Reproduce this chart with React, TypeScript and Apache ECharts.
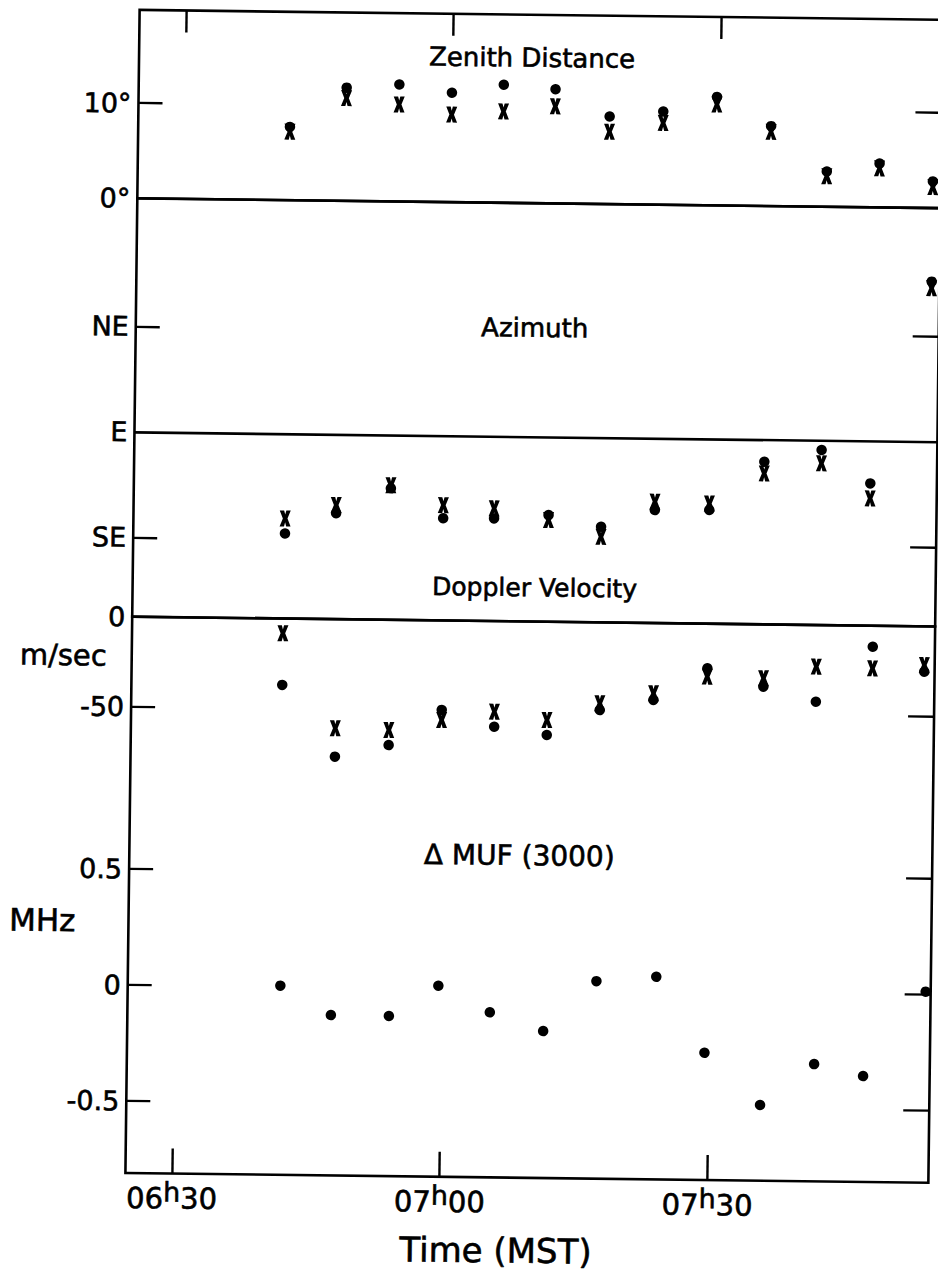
import React, { useEffect, useRef } from "react";
import * as echarts from "echarts";

// ---- data (time in minutes after 06:00 MST) ----
const zenithTime = [41.8, 48.1, 54.0, 59.9, 65.7, 71.5, 77.6, 83.6, 89.6, 95.7, 102.0, 107.9, 113.9];
const zenithDot = [7.7, 11.9, 12.3, 11.5, 12.4, 12.0, 9.2, 9.8, 11.4, 8.4, 3.7, 4.6, 2.8];
const zenithCross = [7.2, 10.8, 10.2, 9.2, 9.6, 10.2, 7.6, 8.6, 10.6, 7.8, 3.2, 4.1, 2.2];

const azimuthTime = [41.8, 47.5, 53.6, 59.5, 65.2, 71.3, 77.2, 83.2, 89.3, 95.4, 101.8, 107.3, 113.9];
const azimuthDot = [132.6, 123.7, 112.8, 125.3, 125.1, 123.4, 128.1, 120.7, 120.4, 99.5, 94.2, 108.2, 21.8];
const azimuthCross = [126.2, 120.2, 111.5, 119.7, 120.8, 125.5, 132.4, 117.1, 117.6, 104.5, 99.9, 114.6, 24.6];

const dopplerTime = [41.7, 47.7, 53.7, 59.6, 65.5, 71.4, 77.3, 83.3, 89.3, 95.6, 101.5, 107.8, 113.6];
const dopplerDot = [-36.9, -76.4, -69.6, -49.7, -58.7, -62.9, -48.7, -42.7, -24.8, -34.6, -42.6, -11.7, -25.2];
const dopplerCross = [-8.2, -60.6, -61.2, -55.3, -50.3, -54.6, -44.9, -39.0, -29.4, -29.9, -23.1, -23.7, -21.5];

const mufTime = [41.9, 47.6, 54.1, 59.6, 65.4, 71.4, 77.3, 84.0, 89.5, 95.8, 101.8, 107.3, 114.2];
const mufDelta = [0.005, -0.119, -0.12, 0.013, -0.099, -0.177, 0.041, 0.063, -0.262, -0.484, -0.305, -0.354, 0.013];

const timeTickValues = [30, 60, 90];
const timeTickLabels = ["06h30", "07h00", "07h30"];
const zenithTickValues = [0, 10];
const azimuthTickValues = [45, 90, 135];
const azimuthTickLabels = ["NE", "E", "SE"];
const dopplerTickValues = [0, -50];
const mufTickValues = [0.5, 0, -0.5];

// axis ranges
const X_MIN = 24.8;
const X_MAX = 114.76;
const ZEN_MIN = 0;
const ZEN_MAX = 19.8;
const AZ_MIN = -9.6;
const AZ_MAX = 168.9;
const DOP_MIN = -309.1;
const DOP_MAX = 0;
const MUF_MIN = -0.8103;
const MUF_MAX = 1.5875;

const INK = "#000";
const FONT = '"DejaVu Sans", "Noto Sans", sans-serif';
const CROSS = "path://M0,0 L4,0 L5,3.6 L6,0 L10,0 L7.1,7 L10,14 L6,14 L5,10.4 L4,14 L0,14 L2.9,7 Z";

const pairs = (t: number[], v: number[]) => t.map((x, i) => [x, v[i]]);

const GRID_LEFT = 132;
const GRID_WIDTH = 803;

function xAxisFor(gridIndex: number, extra: any = {}) {
  return {
    type: "value",
    gridIndex,
    min: X_MIN,
    max: X_MAX,
    splitLine: { show: false },
    axisLine: { show: false, onZero: false },
    axisTick: { show: false },
    axisLabel: { show: false },
    ...extra,
  };
}

function yAxisFor(gridIndex: number, min: number, max: number, side: string, ticks: number[], labels: any, extra: any = {}) {
  return {
    type: "value",
    gridIndex,
    min,
    max,
    position: side,
    splitLine: { show: false },
    axisLine: { show: false, onZero: false },
    axisTick: {
      show: ticks.length > 0,
      inside: true,
      length: side === "left" ? 24 : 26,
      customValues: ticks,
      lineStyle: { color: INK, width: 2.4 },
    },
    axisLabel: labels
      ? {
          show: true,
          customValues: labels.values,
          formatter: labels.formatter,
          color: INK,
          fontFamily: FONT,
          fontSize: 27,
          margin: 7,
          textBorderColor: INK,
          textBorderWidth: 0.6,
        }
      : { show: false },
    ...extra,
  };
}

function scatter(name: string, xi: number, yi: number, data: number[][], cross: boolean, extra: any = {}) {
  return {
    type: "scatter",
    name,
    xAxisIndex: xi,
    yAxisIndex: yi,
    data,
    symbol: cross ? CROSS : "circle",
    symbolSize: cross ? [11, 16] : 10.5,
    itemStyle: { color: INK, opacity: 1 },
    clip: false,
    silent: true,
    z: cross ? 3 : 4,
    ...extra,
  };
}

function textEl(text: string, x: number, y: number, size: number, align = "center") {
  return {
    type: "text",
    x,
    y,
    silent: true,
    style: {
      text,
      fill: INK,
      fontFamily: FONT,
      fontSize: size,
      align,
      verticalAlign: "middle",
      textAlign: align,
      textVerticalAlign: "middle",
      stroke: INK,
      lineWidth: 0.6,
    },
  };
}

export default function App() {
  const ref = useRef<HTMLDivElement>(null);

  useEffect(() => {
    if (!ref.current) return;
    const chart = echarts.init(ref.current, undefined, { renderer: "svg" });
    const border = { show: true, borderColor: INK, borderWidth: 2.6, backgroundColor: "transparent" };
    const tickStyle = { color: INK, width: 2.4 };
    const option: any = {
      animation: false,
      backgroundColor: "#fff",
      grid: [
        { left: GRID_LEFT, width: GRID_WIDTH, top: 14, height: 188.4, ...border },
        { left: GRID_LEFT, width: GRID_WIDTH, top: 202.4, height: 418.4, ...border },
        { left: GRID_LEFT, width: GRID_WIDTH, top: 620.8, height: 556.3, ...border },
        { left: GRID_LEFT, width: GRID_WIDTH, top: 620.8, height: 556.3, show: false },
      ],
      xAxis: [
        xAxisFor(0, {
          position: "top",
          axisTick: { show: true, inside: true, length: 22, customValues: timeTickValues, lineStyle: tickStyle },
        }),
        xAxisFor(1),
        xAxisFor(2, {
          position: "bottom",
          axisTick: { show: true, inside: true, length: 25, customValues: timeTickValues, lineStyle: tickStyle },
          axisLabel: {
            show: true,
            customValues: timeTickValues,
            margin: 5,
            formatter: (v: number) => {
              const lab = timeTickLabels[timeTickValues.indexOf(v)] || "";
              const [a, b] = lab.split("h");
              return `{d|${a}}{h|h}{d|${b}}`;
            },
            rich: {
              d: { fontFamily: FONT, fontSize: 29, lineHeight: 40, color: INK, textBorderColor: INK, textBorderWidth: 0.6 },
              h: { fontFamily: FONT, fontSize: 27, lineHeight: 24, verticalAlign: "top", color: INK, textBorderColor: INK, textBorderWidth: 0.6 },
            },
          },
        }),
        xAxisFor(3),
      ],
      yAxis: [
        yAxisFor(0, ZEN_MIN, ZEN_MAX, "left", [10], {
          values: zenithTickValues,
          formatter: (v: number) => `${v}°`,
        }),
        yAxisFor(0, ZEN_MIN, ZEN_MAX, "right", [10], null),
        yAxisFor(1, AZ_MIN, AZ_MAX, "left", [45, 135], {
          values: azimuthTickValues,
          formatter: (v: number) => azimuthTickLabels[azimuthTickValues.indexOf(v)] || "",
        }, { inverse: true }),
        yAxisFor(1, AZ_MIN, AZ_MAX, "right", [45, 135], null, { inverse: true }),
        yAxisFor(2, DOP_MIN, DOP_MAX, "left", [-50], {
          values: dopplerTickValues,
          formatter: (v: number) => `${v}`,
        }),
        yAxisFor(2, DOP_MIN, DOP_MAX, "right", [-50], null),
        yAxisFor(3, MUF_MIN, MUF_MAX, "left", mufTickValues, {
          values: mufTickValues,
          formatter: (v: number) => (v === 0 ? "0" : v.toFixed(1)),
        }),
        yAxisFor(3, MUF_MIN, MUF_MAX, "right", mufTickValues, null),
      ],
      series: [
        scatter("Zenith (x)", 0, 0, pairs(zenithTime, zenithCross), true),
        scatter("Zenith (o)", 0, 0, pairs(zenithTime, zenithDot), false),
        scatter("Azimuth (x)", 1, 2, pairs(azimuthTime, azimuthCross), true),
        scatter("Azimuth (o)", 1, 2, pairs(azimuthTime, azimuthDot), false, {
          markLine: {
            silent: true,
            symbol: ["none", "none"],
            label: { show: false },
            lineStyle: { color: INK, width: 2.6, type: "solid", opacity: 1 },
            data: [{ yAxis: 90 }],
          },
        }),
        scatter("Doppler (x)", 2, 4, pairs(dopplerTime, dopplerCross), true),
        scatter("Doppler (o)", 2, 4, pairs(dopplerTime, dopplerDot), false),
        scatter("ΔMUF", 3, 6, pairs(mufTime, mufDelta), false),
      ],
      graphic: [
        textEl("Zenith Distance", 525, 57, 26),
        textEl("Azimuth", 531, 327, 26),
        textEl("Doppler Velocity", 534, 587, 25),
        textEl("Δ MUF (3000)", 522, 855, 28),
        textEl("Time (MST)", 503, 1250, 34),
        textEl("m/sec", 107, 660, 29, "right"),
        textEl("MHz", 79, 925, 31, "right"),
      ],
    };
    chart.setOption(option);
    return () => chart.dispose();
  }, []);

  return (
    <div
      style={{
        position: "fixed",
        left: 0,
        top: 0,
        width: 938,
        height: 1272,
        overflow: "hidden",
        background: "#fff",
      }}
    >
      <div
        ref={ref}
        style={{
          position: "absolute",
          left: 0,
          top: 0,
          width: 938,
          height: 1272,
          transform: "rotate(0.7deg)",
          transformOrigin: "469px 636px",
        }}
      />
    </div>
  );
}
